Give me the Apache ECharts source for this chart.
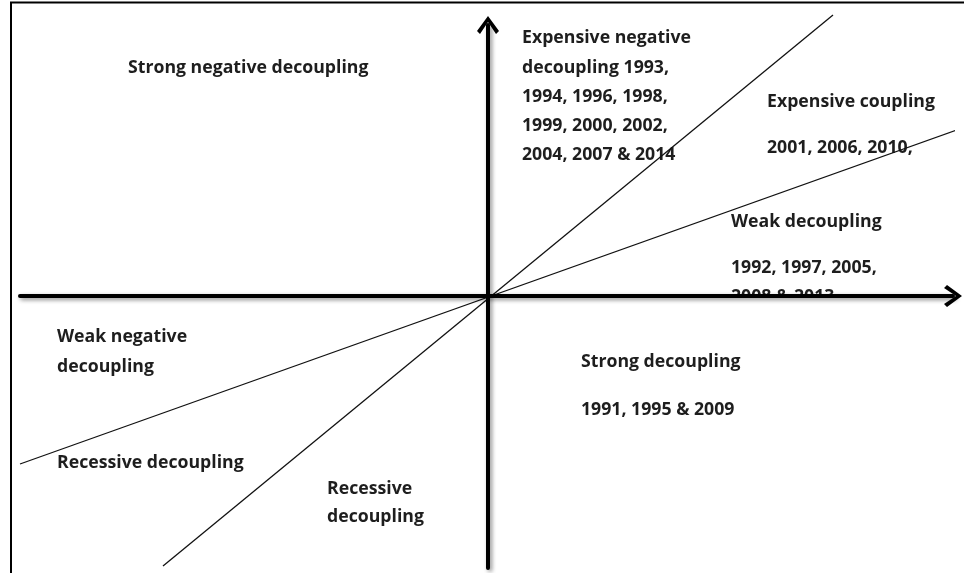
<!DOCTYPE html>
<html>
<head>
<meta charset="utf-8">
<script src="https://cdn.jsdelivr.net/npm/echarts@6/dist/echarts.min.js"></script>
<style>
  html, body { margin: 0; padding: 0; background: #fff; }
  #chart { width: 964px; height: 573px; }
</style>
</head>
<body>
<div id="chart"></div>
<script>
// axis extents (change in output on x, change in emissions on y)
const xRange = [-46.8, 46.5];
const yRange = [-27.2, 27.1];

// elasticity lines through the origin, end points
const steepLine = [[-32.5, -27.0], [34.5, 28.1]];
const shallowLine = [[-46.8, -16.8], [48.0, 17.0]];

// quadrant labels
const labels = [
  { text: 'Strong negative decoupling', x: 128, y: 68 },
  { text: 'Expensive negative', x: 522, y: 38 },
  { text: 'decoupling 1993,', x: 522, y: 68 },
  { text: '1994, 1996, 1998,', x: 522, y: 97 },
  { text: '1999, 2000, 2002,', x: 522, y: 126 },
  { text: '2004, 2007 & 2014', x: 522, y: 155 },
  { text: 'Expensive coupling', x: 767, y: 102 },
  { text: '2001, 2006, 2010,', x: 767, y: 148 },
  { text: 'Weak decoupling', x: 731, y: 222 },
  { text: '1992, 1997, 2005,', x: 731, y: 268 },
  { text: '2008 & 2013', x: 731, y: 297 },
  { text: 'Weak negative', x: 57, y: 337 },
  { text: 'decoupling', x: 57, y: 367 },
  { text: 'Strong decoupling', x: 581, y: 362 },
  { text: '1991, 1995 & 2009', x: 581, y: 410 },
  { text: 'Recessive decoupling', x: 57, y: 463 },
  { text: 'Recessive', x: 327, y: 489 },
  { text: 'decoupling', x: 327, y: 517 }
];

const chart = echarts.init(document.getElementById('chart'));

const arrow = 'path://M11,0 L22,15 L19,18 L11,6 L3,18 L0,15 Z';

const axisCommon = {
  type: 'value',
  z: 5,
  splitLine: { show: false },
  axisTick: { show: false },
  axisLabel: { show: false },
  axisLine: {
    show: true,
    onZero: true,
    symbol: ['none', arrow],
    symbolSize: [22, 18],
    symbolOffset: [0, 0],
    lineStyle: {
      color: '#000',
      width: 4,
      shadowBlur: 4,
      shadowColor: 'rgba(0,0,0,0.45)',
      shadowOffsetX: 2,
      shadowOffsetY: 2
    }
  }
};

const graphics = labels.map(l => ({
  type: 'text',
  z: 1,
  style: {
    text: l.text,
    x: l.x,
    y: l.y,
    font: 'bold 17.7px "Open Sans"',
    fill: '#1e1e1e',
    textVerticalAlign: 'middle'
  }
}));

// hides the lower part of the last "Weak decoupling" line, as in the original
graphics.push({
  type: 'rect',
  z: 2,
  shape: { x: 725, y: 298, width: 170, height: 16 },
  style: { fill: '#fff' }
});
// frame
graphics.push({
  type: 'line',
  z: 6,
  shape: { x1: 10, y1: 2.5, x2: 964, y2: 2.5 },
  style: { stroke: '#000', lineWidth: 2 }
});
graphics.push({
  type: 'line',
  z: 6,
  shape: { x1: 11, y1: 2, x2: 11, y2: 573 },
  style: { stroke: '#000', lineWidth: 2 }
});

const option = {
  backgroundColor: '#fff',
  animation: false,
  grid: { left: 20, right: 11, top: 25, bottom: 5 },
  xAxis: Object.assign({}, axisCommon, { min: xRange[0], max: xRange[1] }),
  yAxis: Object.assign({}, axisCommon, { min: yRange[0], max: yRange[1] }),
  graphic: graphics,
  series: [
    {
      type: 'line',
      data: steepLine,
      symbol: 'none',
      clip: false,
      z: 3,
      lineStyle: { color: '#111', width: 1.3 }
    },
    {
      type: 'line',
      data: shallowLine,
      symbol: 'none',
      clip: false,
      z: 3,
      lineStyle: { color: '#111', width: 1.3 }
    }
  ]
};

chart.setOption(option);
</script>
</body>
</html>
